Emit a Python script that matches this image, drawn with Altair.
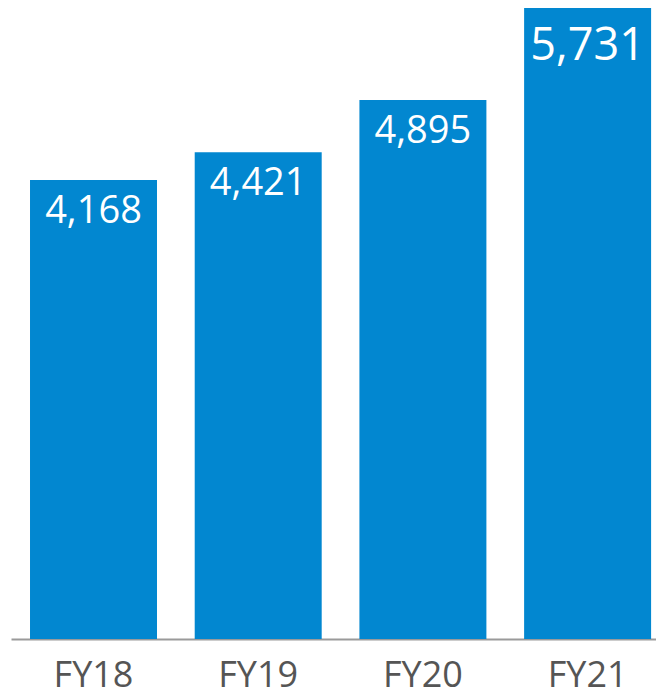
import altair as alt
import pandas as pd

years = ["FY18", "FY19", "FY20", "FY21"]
values = [4168, 4421, 4895, 5731]
labels = ["4,168", "4,421", "4,895", "5,731"]
highlight = [False, False, False, True]

df = pd.DataFrame({"year": years, "value": values, "label": labels, "hl": highlight})

x = alt.X("year:N", sort=years, title=None,
          scale=alt.Scale(paddingInner=0.229, paddingOuter=0.0726, align=0.795),
          axis=alt.Axis(labelAngle=0, ticks=False, tickSize=0, labelPadding=19,
                        labelFontSize=36, labelColor="#555555", labelFont="Open Sans",
                        domainColor="#9a9a9a", domainWidth=2))
y = alt.Y("value:Q", scale=alt.Scale(domain=[0, 5731], nice=False, zero=True), axis=None)

bars = alt.Chart(df).mark_bar(color="#0287D0").encode(x=x, y=y)

txt = alt.Chart(df).transform_filter("!datum.hl").mark_text(
    color="white", font="Open Sans", fontSize=38, baseline="alphabetic", dy=43
).encode(x=x, y=y, text="label:N")

txt_hl = alt.Chart(df).transform_filter("datum.hl").mark_text(
    color="white", font="Open Sans", fontSize=45, fontWeight=500, baseline="alphabetic", dy=52
).encode(x=x, y=y, text="label:N")

chart = (bars + txt + txt_hl).properties(
    width=645, height=631,
    background="white",
    autosize=alt.AutoSizeParams(type="none"),
    padding={"left": 3, "top": 0, "right": 0, "bottom": 58},
).configure_view(strokeWidth=0, stroke="transparent")

chart.save("out.html", embed_options={"renderer": "svg", "actions": False})
